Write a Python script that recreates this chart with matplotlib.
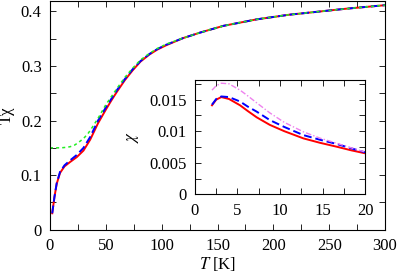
import matplotlib
matplotlib.use("Agg")
import matplotlib.pyplot as plt
from matplotlib.ticker import MultipleLocator

plt.rcParams['font.family'] = ['Liberation Serif', 'DejaVu Serif']
plt.rcParams['mathtext.fontset'] = 'stix'
plt.rcParams['font.size'] = 12

# main panel: T*chi vs T
T_main = [2, 4, 6, 9, 13, 18, 24, 30, 36, 43, 50, 55, 60, 67, 74, 81, 89, 96, 104, 119, 134, 155, 185, 214, 235, 265, 300]
tchi_blue = [0.030, 0.060, 0.085, 0.106, 0.118, 0.127, 0.137, 0.150, 0.170, 0.200, 0.224, 0.240, 0.256, 0.276, 0.294,
             0.309, 0.322, 0.331, 0.339, 0.351, 0.361, 0.3735, 0.3855, 0.394, 0.3985, 0.405, 0.4115]
tchi_red = [0.030, 0.060, 0.084, 0.104, 0.116, 0.124, 0.133, 0.145, 0.165, 0.195, 0.220, 0.237, 0.253, 0.274, 0.292,
            0.308, 0.321, 0.330, 0.338, 0.351, 0.361, 0.3735, 0.3855, 0.394, 0.3985, 0.405, 0.4115]
T_green = [0, 5, 10, 15, 18, 22, 25, 30, 34, 38, 43, 50, 55, 60, 67, 74, 81, 89, 96, 104, 119, 134, 155, 185, 214, 235,
           265, 300]
tchi_green = [0.150, 0.150, 0.150, 0.151, 0.152, 0.155, 0.159, 0.167, 0.176, 0.188, 0.204, 0.229, 0.244, 0.259, 0.279,
              0.296, 0.311, 0.323, 0.332, 0.340, 0.351, 0.361, 0.3735, 0.3855, 0.394, 0.3985, 0.405, 0.4115]

# inset: chi vs T
T_in = [2.0, 2.5, 3.1, 4.0, 5.3, 6.2, 7.25, 8.8, 10.5, 12.75, 14.7, 16.7, 18.4, 20.0]
chi_red = [0.0141, 0.0150, 0.0154, 0.0151, 0.0141, 0.0132, 0.0122, 0.0110, 0.0100, 0.00886, 0.00816, 0.00753, 0.00696,
           0.00650]
chi_blue = [0.0142, 0.0151, 0.0155, 0.0154, 0.0147, 0.0139, 0.0131, 0.01176, 0.01067, 0.00938, 0.00864, 0.00796,
            0.00728, 0.00665]
chi_violet = [0.0165, 0.0172, 0.0176, 0.0175, 0.0165, 0.0156, 0.0145, 0.0129, 0.0114, 0.0099, 0.0089, 0.00807,
              0.00735, 0.0067]

fig = plt.figure(figsize=(3.99, 2.76), dpi=100)
ax = fig.add_axes([0.1253, 0.168, 0.8397, 0.830])
ax.plot(T_main, tchi_red, color='#ff0000', lw=1.4)
ax.plot(T_main, tchi_blue, color='#0000ff', lw=1.4, ls=(0, (4, 2)))
ax.plot(T_green, tchi_green, color='#22ee22', lw=1.1, ls=(0, (2, 2)))
ax.set_xlim(0, 300)
ax.set_ylim(0, 0.42)
ax.xaxis.set_minor_locator(MultipleLocator(25))
ax.yaxis.set_minor_locator(MultipleLocator(0.05))
ax.set_xticks([0, 50, 100, 150, 200, 250, 300])
ax.set_xticklabels(['0', '50', '100', '150', '200', '250', '300'])
ax.set_yticks([0, 0.1, 0.2, 0.3, 0.4])
ax.set_yticklabels(['0', '0.1', '0.2', '0.3', '0.4'])
ax.tick_params(which='both', direction='in', top=True, right=True, length=4, width=0.6, pad=6)
ax.set_xlabel('$T$ [K]', labelpad=1)
ax.set_ylabel('Tχ', labelpad=4)
for s in ax.spines.values():
    s.set_linewidth(0.8)

ins = fig.add_axes([0.4887, 0.296, 0.4261, 0.414])
ins.plot(T_in, chi_red, color='#ff0000', lw=1.4)
ins.plot(T_in, chi_blue, color='#0000ff', lw=1.4, ls=(0, (4, 2)))
ins.plot(T_in, chi_violet, color='#ee82ee', lw=1.0, ls=(0, (4, 1.5, 1, 1.5)))
ins.set_xlim(0, 20)
ins.set_ylim(0, 0.0181)
ins.xaxis.set_minor_locator(MultipleLocator(2.5))
ins.yaxis.set_minor_locator(MultipleLocator(0.0025))
ins.set_xticks([0, 5, 10, 15, 20])
ins.set_xticklabels(['0', '5', '10', '15', '20'])
ins.set_yticks([0, 0.005, 0.01, 0.015])
ins.set_yticklabels(['0', '0.005', '0.01', '0.015'])
ins.tick_params(which='both', direction='in', top=True, right=True, length=4, width=0.6, pad=6)
ins.set_ylabel(r'$\chi$', labelpad=6)
for s in ins.spines.values():
    s.set_linewidth(0.8)

fig.savefig('out.png', dpi=100)
